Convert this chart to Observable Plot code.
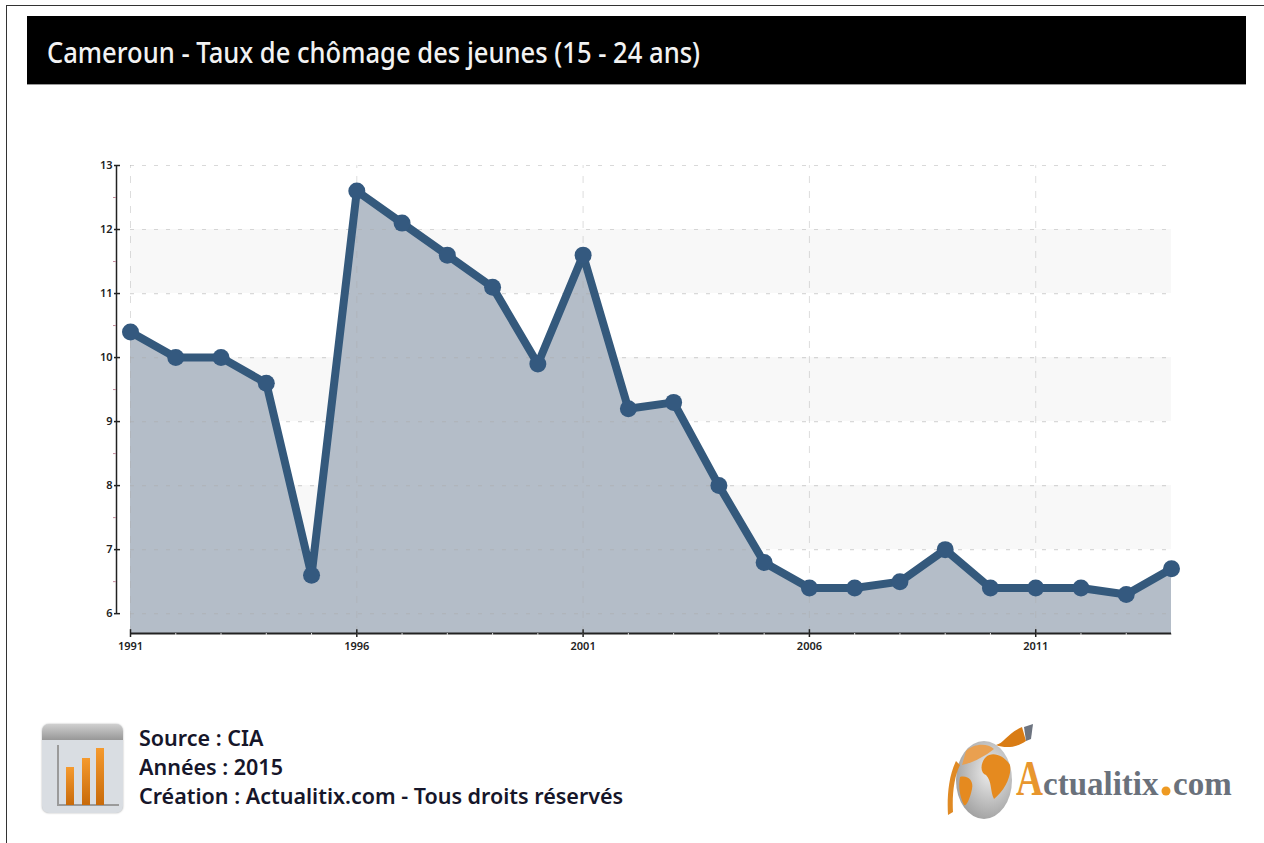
<!DOCTYPE html>
<html lang="fr">
<head>
<meta charset="utf-8">
<script src="https://cdn.jsdelivr.net/npm/d3@7"></script>
<script src="https://cdn.jsdelivr.net/npm/@observablehq/plot@0.6"></script>
<style>
html,body{margin:0;padding:0;background:#fff;overflow:hidden}
#page{position:relative;width:1264px;height:843px;overflow:hidden;font-family:"Noto Sans",sans-serif}
#frameT{position:absolute;left:7px;top:5px;width:1257px;height:1px;background:#333}
#frameL{position:absolute;left:6px;top:5px;width:1px;height:838px;background:#333}
#title{position:absolute;left:27px;top:16px;width:1219px;height:69px;background:#000;color:#f2f2f2;
  font-size:29px;box-sizing:border-box;padding-left:20px;white-space:nowrap;border-bottom:1px solid #999}
#title span{display:inline-block;transform-origin:0 0;transform:scaleX(.882);line-height:72px;font-weight:500}
#chart{position:absolute;left:0;top:0}
#credits{position:absolute;left:139px;top:724px;font-weight:600;font-size:21px;line-height:29px;color:#16162a;white-space:nowrap;
  transform-origin:0 0;transform:scaleX(1.024)}
#icon{position:absolute;left:42px;top:724px;width:81px;height:89px;border-radius:7px;overflow:hidden;
  background:#d9dde2;box-shadow:0 0 2px #aaa}
#icon .top{position:absolute;left:0;top:0;width:100%;height:16px;background:linear-gradient(#cfcfcf,#979797)}
#icon .ax{position:absolute;background:#9a9a9a}
#icon .bar{position:absolute;bottom:8px;width:8px;background:linear-gradient(#f59a2e,#c86a0a)}
#logo{position:absolute;left:930px;top:715px}
</style>
</head>
<body>
<div id="page">
  <div id="frameT"></div><div id="frameL"></div>
  <div id="chart"></div>
  <div id="title"><span>Cameroun - Taux de chômage des jeunes (15 - 24 ans)</span></div>
  <div id="icon">
    <div class="top"></div>
    <div class="ax" style="left:15px;top:21px;width:2px;height:60px"></div>
    <div class="ax" style="left:15px;top:80px;width:62px;height:2px"></div>
    <div class="bar" style="left:24px;height:38px"></div>
    <div class="bar" style="left:40px;height:47px"></div>
    <div class="bar" style="left:54px;height:57px"></div>
  </div>
  <div id="credits">Source : CIA<br>Années : 2015<br>Création : Actualitix.com - Tous droits réservés</div>
  <svg id="logo" width="320" height="110" viewBox="0 0 320 110">
    <defs>
      <radialGradient id="globe" cx="60%" cy="40%" r="70%">
        <stop offset="0" stop-color="#ededed"/><stop offset="1" stop-color="#9a9a9a"/>
      </radialGradient>
    </defs>
    <ellipse cx="54" cy="65" rx="28" ry="39" fill="url(#globe)"/>
    <path d="M56 42 C62 36 74 40 80 50 C82 62 74 76 64 84 C60 76 62 66 56 60 C50 58 50 48 56 42Z" fill="#e58a1f"/>
    <path d="M30 62 C38 60 44 66 42 74 C40 84 36 92 34 90 C30 82 28 72 30 62Z" fill="#e58a1f"/>
    <path d="M36 36 C44 28 58 28 64 34 C54 42 42 48 32 50Z" fill="#e9a050"/>
    <path d="M66 30 C74 28 78 18 92 12 L96 26 C88 32 76 34 66 30Z" fill="#d97c14"/>
    <path d="M94 12 L103 9 L101 24 L96 26Z" fill="#6d7480"/>
    <path d="M26 46 C18 62 17 85 18 100 L23 97 C22 80 24 62 30 50Z" fill="#e08a24"/>
    <text transform="translate(86,80) scale(.85,1.15)" font-family="Liberation Serif" font-weight="700" font-size="44" fill="#e8962e">A</text>
    <text x="113" y="80" font-family="Liberation Serif" font-weight="700" font-size="33" fill="#6a717b">ctualitix</text>
    <circle cx="236" cy="76" r="4.5" fill="#ee9a22"/>
    <text x="243" y="80" font-family="Liberation Serif" font-weight="700" font-size="33" fill="#6a717b">com</text>
  </svg>
</div>
<script>
const years = [1991,1992,1993,1994,1995,1996,1997,1998,1999,2000,2001,2002,2003,2004,2005,2006,2007,2008,2009,2010,2011,2012,2013,2014];
const rates = [10.4,10,10,9.6,6.6,12.6,12.1,11.6,11.1,9.9,11.6,9.2,9.3,8,6.8,6.4,6.4,6.5,7,6.4,6.4,6.4,6.3,6.7];
const yearTicks = [1991,1996,2001,2006,2011];
const rateTicks = [6,7,8,9,10,11,12,13];
const rateMinorTicks = [6.5,7.5,8.5,9.5,10.5,11.5,12.5];
const bandLows = [7,9,11];
const floorRate = 5.69;

const table = years.map((year,i)=>({year,rate:rates[i]}));
const axisFont = {fontSize:11, fontWeight:600, fill:"#222"};

const plot = Plot.plot({
  width:1264, height:843,
  marginLeft:130, marginRight:93, marginTop:165, marginBottom:210,
  style:{background:"transparent", fontFamily:"'Noto Sans',sans-serif"},
  x:{domain:[1991,2014]},
  y:{domain:[floorRate,13]},
  marks:[
    Plot.rect(bandLows,{x1:1991,x2:2014,y1:d=>d,y2:d=>d+1,fill:"#f8f8f8"}),
    Plot.areaY(table,{x:"year",y1:floorRate,y2:"rate",fill:"#b4bdc8"}),
    Plot.ruleY(rateTicks,{stroke:"#aaa",strokeOpacity:0.45,strokeWidth:1.2,strokeDasharray:"4 8"}),
    Plot.ruleX(yearTicks,{y1:floorRate,y2:13,stroke:"#aaa",strokeOpacity:0.4,strokeDasharray:"7 8"}),
    Plot.line(table,{x:"year",y:"rate",stroke:"#34597c",strokeWidth:8}),
    Plot.dot(table,{x:"year",y:"rate",r:8.5,fill:"#34597f"}),
    Plot.ruleX([1991],{y1:6,y2:13,dx:-14,stroke:"#222",strokeWidth:1.5}),
    Plot.axisY({ticks:rateMinorTicks,tickFormat:()=>"",tickSize:3,dx:-14,stroke:"#c08a9a",label:null}),
    Plot.axisY({ticks:rateTicks,tickFormat:d=>d,tickSize:6,tickPadding:2,dx:-10,label:null,stroke:"#222",strokeWidth:1.5,...axisFont}),
    Plot.ruleY([floorRate],{stroke:"#222",strokeWidth:2}),
    Plot.axisX({ticks:years,tickFormat:()=>"",tickSize:2,stroke:"#ddd",label:null}),
    Plot.axisX({ticks:yearTicks,tickFormat:d=>String(d),tickSize:4,tickPadding:5,label:null,stroke:"#222",strokeWidth:1.5,...axisFont}),
    Plot.ruleX(yearTicks,{stroke:"#222",strokeWidth:1.5,y1:floorRate,y2:floorRate+0.06})
  ]
});
document.getElementById("chart").appendChild(plot);
</script>
</body>
</html>
